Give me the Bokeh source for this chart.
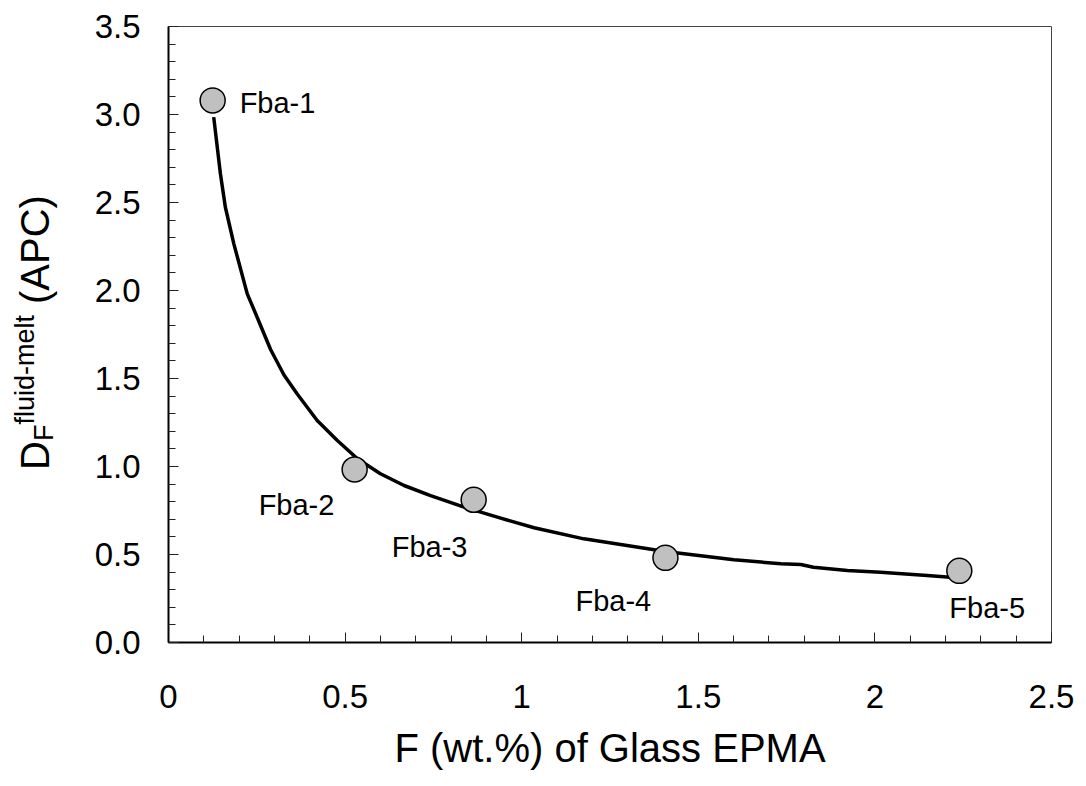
from bokeh.plotting import figure
from bokeh.layouts import row
from bokeh.models import FixedTicker, NumeralTickFormatter, ColumnDataSource, Div
from bokeh.core.properties import value
from bokeh.embed import file_html
from bokeh.resources import INLINE

# ---- data ----
sample_names = ["Fba-1", "Fba-2", "Fba-3", "Fba-4", "Fba-5"]
f_glass = [0.125, 0.527, 0.864, 1.407, 2.239]
d_fluid_melt = [3.08, 0.983, 0.811, 0.481, 0.407]

fit_x = [0.128, 0.147, 0.161, 0.185, 0.223, 0.261, 0.289,
         0.327, 0.364, 0.421, 0.478, 0.535, 0.600, 0.667, 0.742, 0.837, 0.931,
         1.035, 1.176, 1.407, 1.601, 1.734, 1.790, 1.826, 1.922, 2.016,
         2.148, 2.222, 2.239]
fit_y = [2.985, 2.663, 2.473, 2.265, 1.981, 1.800, 1.665,
         1.520, 1.413, 1.261, 1.148, 1.044, 0.959, 0.892, 0.835, 0.769, 0.712,
         0.652, 0.589, 0.517, 0.470, 0.447, 0.443, 0.428, 0.409, 0.399,
         0.381, 0.369, 0.368]

x_ticks = [0, 0.5, 1, 1.5, 2, 2.5]
x_tick_labels = ["0", "0.5", "1", "1.5", "2", "2.5"]
y_ticks = [0, 0.5, 1.0, 1.5, 2.0, 2.5, 3.0, 3.5]

x_axis_title = "F (wt.%) of Glass EPMA"
y_title_main = "D"
y_title_sub = "F"
y_title_sup = "fluid-melt"
y_title_tail = "(APC)"

# label offsets (pixels) relative to each point
label_dx = [27, -96, -82, -90, -10]
label_dy = [3, 36, 47, 43, 37]

FONT = "Liberation Sans"
H = 786
LEFT_W = 60

# ---- main chart ----
p = figure(width=1086 - LEFT_W, height=H, x_range=(0, 2.5), y_range=(0, 3.5),
           output_backend="svg", toolbar_location=None,
           min_border_left=168 - LEFT_W, min_border_right=35, min_border_top=26,
           min_border_bottom=144)
p.background_fill_color = "white"
p.border_fill_color = "white"
p.grid.visible = False
p.outline_line_color = "#444444"
p.outline_line_width = 1

x_minor = [round(i * 0.1, 2) for i in range(0, 26)]
y_minor = [round(i * 0.1, 2) for i in range(0, 36)]
p.xaxis.ticker = FixedTicker(ticks=x_ticks, minor_ticks=x_minor)
p.yaxis.ticker = FixedTicker(ticks=y_ticks, minor_ticks=y_minor)
p.xaxis.major_label_overrides = {t: l for t, l in zip(x_ticks, x_tick_labels)}
p.yaxis.formatter = NumeralTickFormatter(format="0.0")

for ax in (p.xaxis[0], p.yaxis[0]):
    ax.axis_line_color = "black"
    ax.axis_line_width = 2
    ax.major_tick_in = 10
    ax.major_tick_out = 0
    ax.minor_tick_in = 7
    ax.minor_tick_out = 0
    ax.major_tick_line_color = "#222222"
    ax.minor_tick_line_color = "#222222"
    ax.major_tick_line_width = 1
    ax.minor_tick_line_width = 1
    ax.major_label_text_font = FONT
    ax.major_label_text_font_size = "33px"
    ax.major_label_text_color = "black"

p.xaxis.major_label_standoff = 42
p.yaxis.major_label_standoff = 28
p.xaxis.axis_label = x_axis_title
p.xaxis.axis_label_text_font = FONT
p.xaxis.axis_label_text_font_size = "40px"
p.xaxis.axis_label_text_font_style = "normal"
p.xaxis.axis_label_text_color = "black"
p.xaxis.axis_label_standoff = 15

# fitted curve
p.line(fit_x, fit_y, line_color="black", line_width=3.5, line_join="round")

# data points
src = ColumnDataSource(dict(x=f_glass, y=d_fluid_melt, name=sample_names,
                            dx=label_dx, dy=label_dy))
p.scatter("x", "y", source=src, size=25, fill_color="#c0c0c0",
          line_color="black", line_width=1.5)
p.text("x", "y", text="name", source=src, x_offset="dx", y_offset="dy",
       text_font=value(FONT), text_font_size="29px", text_color="black",
       text_align="left", text_baseline="alphabetic")

# ---- rotated y-axis title with subscript / superscript (HTML text) ----
title_html = (
    '<div style="position:relative;width:%dpx;height:%dpx;overflow:visible;">'
    '<div style="position:absolute;left:15px;top:470px;transform-origin:0 0;'
    'transform:rotate(-90deg);white-space:nowrap;font-family:\'%s\';'
    'font-size:40px;line-height:40px;color:black;">'
    '%s<span style="font-size:27px;position:relative;top:4px;">%s</span>'
    '<span style="font-size:27px;position:relative;top:-15px;">%s</span>'
    '&nbsp;%s</div></div>'
) % (LEFT_W, H, FONT, y_title_main, y_title_sub, y_title_sup, y_title_tail)

ylab = Div(text=title_html, width=LEFT_W, height=H, margin=0,
           styles={"overflow": "visible"})

layout = row(ylab, p, spacing=0)
open("out.html", "w").write(file_html(layout, INLINE))
